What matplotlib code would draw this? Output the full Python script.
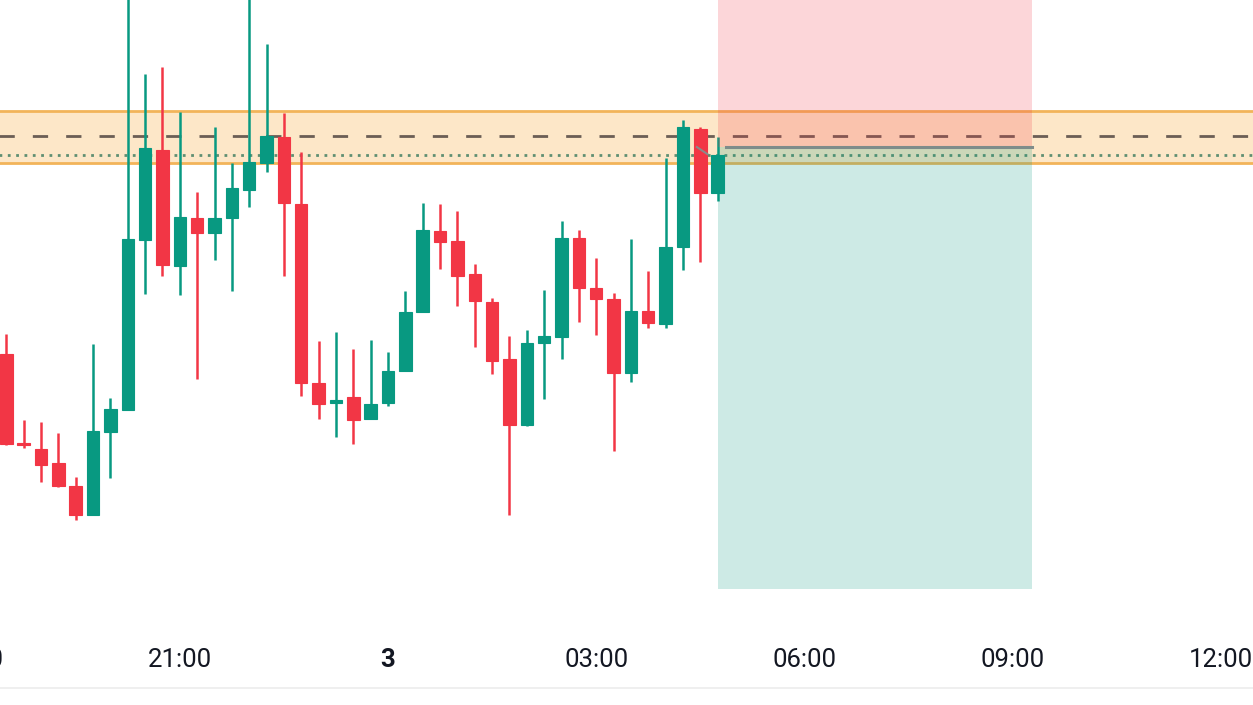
import matplotlib
matplotlib.use("Agg")
import matplotlib.pyplot as plt
from matplotlib.lines import Line2D
from matplotlib.patches import Rectangle

# ---- data (15-minute candles, time in hours relative to midnight of day 3) ----
t_start = -5.5          # 18:30
step = 0.25
opens  = [646, 557, 551, 537, 514, 485, 568, 590, 760, 850, 734, 782, 767, 782, 810, 837,
          863, 796, 617, 597, 603, 581, 597, 629, 688, 769, 759, 726, 698, 641, 575, 657,
          663, 762, 712, 701, 627, 689, 676, 753, 871, 807]
closes = [556, 555, 535, 514, 485, 569, 591, 761, 852, 735, 783, 767, 782, 812, 838, 864,
          797, 617, 596, 600, 580, 596, 629, 688, 770, 758, 724, 699, 639, 575, 657, 664,
          762, 712, 701, 627, 689, 677, 753, 873, 807, 845]
highs  = [666, 580, 578, 567, 523, 656, 602, 1015, 926, 933, 888, 808, 873, 837, 1015, 956,
          887, 848, 659, 668, 651, 660, 648, 709, 797, 796, 789, 736, 702, 664, 670, 710,
          779, 770, 742, 707, 761, 729, 842, 880, 873, 863]
lows   = [555, 552, 518, 513, 480, 485, 522, 590, 706, 724, 705, 621, 740, 709, 793, 828,
          724, 604, 581, 563, 556, 581, 594, 629, 688, 731, 694, 653, 626, 485, 574, 601,
          641, 678, 665, 549, 618, 672, 672, 730, 738, 799]

zone_top, zone_bottom = 889, 837
dashed_level = 864
dotted_level = 845
entry_price = 853
stop_price = 1010
target_price = 411
pos_start, pos_end = 4.75, 9.28

tick_pos = [-6, -3, 0, 3, 6, 9, 12]
tick_labels = ["18:00", "21:00", "3", "03:00", "06:00", "09:00", "12:00"]

GREEN = "#089981"
RED = "#F23645"

fig = plt.figure(figsize=(12.53, 7.05), dpi=100)
W, H = 1253, 705
# axes extends slightly beyond the figure on both sides
axL, axR, axTop, axBot = -60, 1313, 0, 630
ax = fig.add_axes([axL / W, (H - axBot) / H, (axR - axL) / W, (axBot - axTop) / H])

px_per_h = 69.4
mid_px = 388
ax.set_xlim((axL - mid_px) / px_per_h, (axR - mid_px) / px_per_h)
ax.set_ylim(1000 - axBot, 1000 - axTop)

# zone band
ax.axhspan(zone_bottom, zone_top, color="#fde7c8", zorder=0, lw=0)
ax.axhline(zone_top, color="#f2b45a", lw=2, zorder=1)
ax.axhline(zone_bottom, color="#f2b45a", lw=2, zorder=1)
ax.axhline(dashed_level, color="#6b5e55", lw=2, ls=(0, (5.5, 6.5)), zorder=2)
ax.axhline(dotted_level, color="#5f8f72", lw=2, ls=(0, (1, 2)), zorder=2)

# candles
body_w = 0.18
for i, (o, c, h, l) in enumerate(zip(opens, closes, highs, lows)):
    x = t_start + i * step
    col = GREEN if c >= o else RED
    ax.plot([x, x], [l, h], color=col, lw=1.8, zorder=3, solid_capstyle="butt")
    lo, hi = min(o, c), max(o, c)
    ax.add_patch(Rectangle((x - body_w / 2, lo), body_w, max(hi - lo, 1.5),
                           facecolor=col, edgecolor=col, lw=0.8, zorder=4))

# position box (drawn above candles with transparency)
ax.add_patch(Rectangle((pos_start, entry_price), pos_end - pos_start, stop_price - entry_price,
                       facecolor=RED, alpha=0.2, lw=0, zorder=5))
ax.add_patch(Rectangle((pos_start, target_price), pos_end - pos_start, entry_price - target_price,
                       facecolor=GREEN, alpha=0.2, lw=0, zorder=5))
ax.plot([pos_start + 0.12, pos_end], [entry_price, entry_price], color="#7f8c8a", lw=2.2, zorder=6)
ax.plot([4.45, 4.6], [853, 846], color="#8a8a8a", lw=1.5, zorder=6)

# axes styling
for s in ax.spines.values():
    s.set_visible(False)
ax.set_yticks([])
ax.set_xticks(tick_pos)
ax.set_xticklabels(tick_labels)
ax.tick_params(axis="x", length=0, pad=13, labelsize=18.5, labelcolor="#131722")
for lbl in ax.get_xticklabels():
    lbl.set_fontfamily("Roboto")
    if lbl.get_text() == "3":
        lbl.set_fontweight("bold")
ax.set_facecolor("white")
ax.patch.set_alpha(0)

# bottom separator
fig.add_artist(Line2D([0, 1], [(H - 688) / H, (H - 688) / H], color="#ececec", lw=1.2))

fig.savefig("out.png", dpi=100, facecolor="white")
